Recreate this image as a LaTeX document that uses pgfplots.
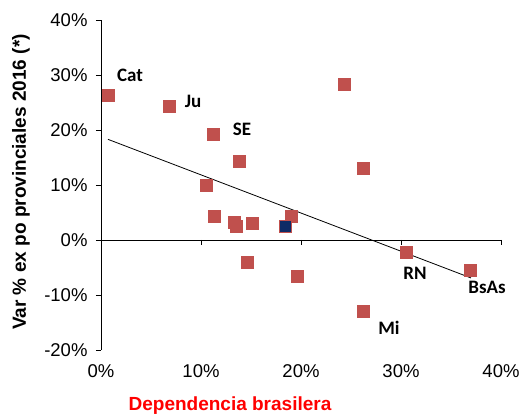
\documentclass[border=0pt]{standalone}
\usepackage{pgfplots}
\pgfplotsset{compat=1.18}
\usepackage{fontspec}
\setmainfont{Liberation Sans}
\newfontfamily\calib{Carlito}
\definecolor{ptred}{HTML}{C0504D}
\definecolor{ptblue}{HTML}{0F2B66}
\begin{document}
\begin{tikzpicture}
\begin{axis}[
  name=ax,
  scale only axis,
  width=400pt, height=330pt,
  xmin=0, xmax=40, ymin=-20, ymax=40,
  axis y line*=left,
  axis x line*=bottom,
  x axis line style={draw=none},
  xtick style={draw=none},
  ytick style={black, line width=0.6pt},
  tick align=outside,
  major tick length=5pt,
  xtick={0,10,20,30,40},
  ytick={-20,-10,0,10,20,30,40},
  xticklabel={\pgfmathprintnumber{\tick}\%},
  yticklabel={\pgfmathprintnumber{\tick}\%},
  /pgf/number format/assume math mode=true,
  ticklabel style={font=\fontsize{18.5}{21}\selectfont},
  xticklabel style={yshift=-6pt},
  yticklabel style={xshift=-5pt},
  xlabel={Dependencia brasilera},
  ylabel={Var \% ex po provinciales 2016 (*)},
  xlabel style={at={(axis description cs:0.3225,-0.167)}, anchor=center, font=\fontsize{19}{22}\selectfont\bfseries, text=red},
  ylabel style={at={(axis description cs:-0.2,0.509)}, anchor=center, font=\fontsize{19}{22}\selectfont\bfseries},
  axis line style={line width=0.6pt},
  clip=false,
]
\draw[line width=0.6pt] (axis cs:0,0) -- (axis cs:40,0);
\draw[line width=0.6pt] (axis cs:10,0) -- (axis cs:10,-0.9);
\draw[line width=0.6pt] (axis cs:20,0) -- (axis cs:20,-0.9);
\draw[line width=0.6pt] (axis cs:30,0) -- (axis cs:30,-0.9);
\draw[line width=0.6pt] (axis cs:40,0) -- (axis cs:40,-0.9);
\addplot[black, line width=0.8pt] coordinates {(0.7,18.3) (37,-6.9)};
\addplot[only marks, mark=square*, mark size=6pt, mark options={fill=ptred, draw=ptred}] coordinates {
(0.7,26.4) (6.8,24.3) (11.2,19.2) (13.8,14.3) (10.5,10.0) (11.3,4.3)
(13.3,3.3) (13.5,2.5) (15.1,3.1) (19.0,4.3) (14.6,-4.0) (24.3,28.3)
(26.2,13.0) (19.6,-6.6) (30.5,-2.3) (36.9,-5.5) (26.2,-12.9)
};
\addplot[only marks, mark=square*, mark size=6pt, mark options={fill=ptblue, draw=ptred, line width=0.6pt}] coordinates {(18.4,2.4)};
\node[font=\calib\fontsize{19}{22}\selectfont\bfseries] at (axis cs:2.9,29.9) {Cat};
\node[font=\calib\fontsize{19}{22}\selectfont\bfseries] at (axis cs:9.2,25.2) {Ju};
\node[font=\calib\fontsize{19}{22}\selectfont\bfseries] at (axis cs:14.1,20.1) {SE};
\node[font=\calib\fontsize{19}{22}\selectfont\bfseries] at (axis cs:31.4,-6.1) {RN};
\node[font=\calib\fontsize{19}{22}\selectfont\bfseries] at (axis cs:38.6,-8.6) {BsAs};
\node[font=\calib\fontsize{19}{22}\selectfont\bfseries] at (axis cs:28.8,-15.9) {Mi};
\end{axis}
\pgfresetboundingbox
\path[use as bounding box] ([shift={(-101pt,-66pt)}]ax.south west) rectangle ([shift={(20pt,20pt)}]ax.north east);
\end{tikzpicture}
\end{document}
